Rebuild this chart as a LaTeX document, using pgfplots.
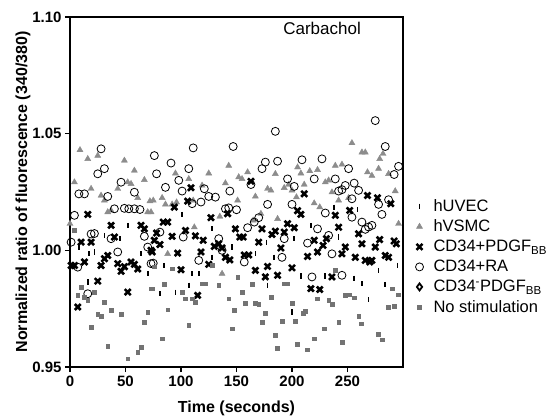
\documentclass[border=0pt]{standalone}
\usepackage{fontspec}
\setmainfont{Liberation Sans}
\usepackage{pgfplots}
\pgfplotsset{compat=1.18}
\definecolor{trigray}{RGB}{140,140,140}
\definecolor{sqgray}{RGB}{115,115,115}
\begin{document}
\begin{tikzpicture}
\begin{axis}[
 scale only axis, width=333pt, height=350pt,
 xmin=0, xmax=300, ymin=0.95, ymax=1.10,
 xtick={0,50,100,150,200,250}, ytick={0.95,1.00,1.05,1.10},
 tick pos=left, tick align=outside, major tick length=5pt,
 /pgf/number format/assume math mode=true,
 yticklabel style={/pgf/number format/fixed, /pgf/number format/fixed zerofill, /pgf/number format/precision=2},
 ticklabel style={font=\fontsize{15}{17}\selectfont\bfseries},
 axis line style={line width=1.3pt},
 every tick/.style={line width=1.3pt, black},
 xlabel={Time (seconds)},
 ylabel={Normalized ratio of fluorescence (340/380)},
 label style={font=\fontsize{16}{18}\selectfont\bfseries},
 xlabel style={at={(rel axis cs:0.5,-0.117)}, anchor=center},
 ylabel style={at={(rel axis cs:-0.141,0.5)}, anchor=center},
 legend style={at={(rel axis cs:1.037,0.485)}, anchor=north west, draw=none, fill=none,
   font=\fontsize{16.5}{18}\selectfont, row sep=3pt, inner sep=0pt,
   /tikz/every odd column/.append style={column sep=8pt}},
 legend cell align=left,
]
% hUVEC
\addplot[only marks, mark=|, mark size=2.6pt, black, mark options={line width=1.7pt}] coordinates {
(8,1.0014)(16,0.9864)(17,0.9985)(22,0.9993)(31,1.0064)(45,1.005)(52,1.0107)(64,0.9985)(70,0.99)
(81,0.9814)(85,0.9935)(95,0.9821)(101,1.0154)(107,0.985)(110,0.99)(116,0.99)(128,1.0092)(128,0.997)(146,1.0014)
(167,0.9985)(177,1.0035)(178,0.985)(184,0.997)(200,0.9736)(202,1.005)(208,0.989)(217,1.0107)
(230,0.989)(238,1.0185)(242,1.0057)(256,0.988)(259,1.0174)(263,0.9857)(269,0.9788)(278,0.9914)(284,0.9854)(295,0.9935)
};
\addlegendentry{hUVEC}
% hVSMC
\addplot[only marks, mark=triangle*, mark size=3.5pt, trigray] coordinates {
(0,1.0114)(4,1.0292)(9,1.043)(16,1.0392)(19,1.0264)(25,1.0406)(28,1.0235)(31,1.0214)(34,1.0164)(37,1.0171)
(43,1.0264)(49,1.0385)(52,1.0292)(55,1.0285)(58,1.0342)(61,1.0225)(67,1.0302)(70,1.0164)(72,1.0211)
(73,1.0164)(75,1.0214)(83,1.0225)(86,1.0197)(88,0.9985)(92,1.0197)(95,1.033)(96,1.0206)(107,1.0306)(111,1.0214)
(112,1.0099)(119,1.0278)(125,1.033)(135,1.0145)(137,0.99)(140,1.0288)(143,1.0363)(151,1.0214)
(152,1.0314)(155,1.0306)(160,1.0335)(165,1.0128)(167,1.0231)(172,1.0157)(178,1.0264)(181,1.0257)(185,1.0328)
(187,1.0135)(193,1.0268)(197,1.0282)(200,1.0257)(204,1.0228)(205,1.0356)(208,1.033)(211,1.0282)(216,1.034)
(220,1.0202)(223,1.0345)(225,1.0185)(230,1.0292)(233,1.03)(236,1.0249)(239,1.0363)(242,1.0214)(245,1.0368)
(251,1.0225)(254,1.046)(263,1.042)(266,1.042)(268,1.0335)(272,1.032)(278,1.035)(279,1.0392)(282,1.0414)
(287,1.0328)(293,1.0254)(296,1.0114)
};
\addlegendentry{hVSMC}
% CD34+PDGF
\addplot[only marks, mark=x, mark size=4.2pt, black, mark options={line width=2.6pt}] coordinates {
(1,0.9935)(4,0.9935)(7,0.9757)(10,1.0035)(13,0.995)(16,1.0154)(19,1.0035)(25,0.9868)(28,0.9935)(31,0.9964)
(34,0.9978)(37,1.0107)(40,1.0057)(43,0.9943)(46,0.991)(49,0.993)(52,0.9821)(55,0.995)(58,0.994)(61,0.992)
(64,1.0107)(67,1.0092)(73,1.0)(74,0.9993)(76,1.0043)(78,1.0074)(81,1.0025)(84,1.0121)(88,1.0121)(92,1.006)
(94,1.0185)(97,0.9988)(100,0.9917)(104,1.0085)(106,1.0211)(109,1.0268)(113,1.0062)(115,0.9807)(118,0.9993)
(120,1.0043)(125,0.994)(127,1.014)(130,1.0017)(134,1.0028)(137,1.001)(140,0.997)(142,1.0157)(144,0.9959)
(149,1.0092)(153,1.0057)(156,1.0057)(157,0.998)(161,0.998)(163,1.0296)(167,0.9914)(170,1.0035)(173,1.0092)
(176,0.9886)(178,0.9931)(182,1.0068)(185,1.0082)(187,0.9893)(190,1.001)(193,1.0078)(196,1.0114)(200,0.9925)
(202,1.0097)(205,1.017)(208,1.0154)(211,1.0242)(214,0.9974)(217,0.9836)(220,1.0043)(223,0.9993)(225,0.9832)
(228,1.0021)(231,1.005)(236,0.9886)(239,1.015)(242,1.0099)(245,0.9985)(248,1.0014)(252,1.0171)(257,0.997)
(260,1.0071)(263,1.0028)(266,0.9957)(268,1.0235)(270,0.995)(272,0.9957)(275,1.0014)(277,1.0225)(279,1.0046)
(284,0.9978)(287,0.997)(289,1.02)(292,1.004)(294,1.0028)
};
\addlegendentry{CD34+PDGF\textsubscript{BB}}
% CD34+RA
\addplot[only marks, mark=o, mark size=4pt, black, mark options={line width=0.8pt}] coordinates {
(1,1.0035)(4,1.015)(7,0.9928)(8,1.0242)(13,1.0242)(16,0.9814)(19,1.007)(22,1.0072)(25,1.0328)(28,1.0435)
(31,1.035)(34,1.0231)(37,1.005)(40,1.0178)(43,0.9993)(46,1.0292)(49,1.018)(53,1.0178)(58,1.0249)(58,1.0178)
(63,1.0175)(67,1.006)(70,1.0014)(73,0.9943)(75,0.9945)(76,1.0406)(78,1.0328)(81,1.0078)(86,1.027)(91,1.0374)
(98,1.03)(101,1.0254)(102,1.0057)(107,1.035)(110,1.02)(111,1.0439)(116,0.9957)(118,1.0207)(121,1.0264)
(125,1.0231)(131,1.0228)(134,1.005)(137,1.0)(140,1.0178)(143,1.0182)(144,1.0254)(147,1.0445)(150,1.0174)
(157,0.995)(160,1.0097)(163,1.0282)(166,1.0121)(170,1.014)(173,1.035)(176,1.0378)(178,1.0197)(185,1.051)
(187,1.0382)(191,0.997)(193,1.005)(196,1.0306)(200,1.0197)(202,1.0274)(209,1.0388)(214,1.0031)(218,0.9886)
(220,1.0306)(223,1.0092)(227,1.0392)(230,1.016)(233,1.0064)(236,0.9985)(239,1.0306)(242,1.0254)(245,1.026)
(245,0.9893)(248,1.0278)(251,1.035)(254,1.0221)(254,1.0142)(256,1.0288)(260,1.0257)(263,1.0121)(266,1.009)
(269,1.01)(272,1.0107)(275,1.0556)(278,1.0197)(281,1.0154)(284,1.0445)(287,1.0217)(292,1.0325)(296,1.036)
};
\addlegendentry{CD34+RA}
\addlegendimage{only marks, mark=diamond, mark size=3.5pt, black, mark options={line width=1.8pt}}
\addlegendentry{CD34\textsuperscript{-}PDGF\textsubscript{BB}}
% No stimulation
\addplot[only marks, mark=square*, mark size=1.9pt, sqgray] coordinates {
(4,1.0085)(7,0.9807)(10,0.9843)(13,0.98)(16,0.9786)(19,0.9669)(22,0.9821)(25,0.9728)(28,0.9717)(31,0.9778)
(34,0.9589)(37,0.9743)(46,0.9728)(52,0.9536)(61,0.9564)(64,0.9586)(67,0.9693)(70,0.9735)(73,0.9836)
(74,0.9836)(76,0.993)(83,0.9621)(85,0.9854)(88,0.9746)(92,0.9921)(101,0.9821)(104,0.9793)(107,0.9679)
(110,0.9793)(113,0.9778)(119,0.9857)(122,0.9857)(128,0.9935)(134,0.985)(143,0.9793)(146,0.9664)(148,0.9743)
(151,0.9886)(155,0.9821)(158,0.9774)(164,0.9854)(167,0.9774)(170,0.9768)(173,0.9693)(176,0.9729)(181,0.98)
(185,0.9636)(187,0.9579)(191,0.9697)(193,0.9857)(196,0.9857)(200,0.9774)(203,0.9697)(205,0.9597)(210,0.9732)
(212,0.974)(214,0.9574)(220,0.9621)(223,0.9793)(229,0.9664)(233,0.9788)(236,0.9768)(239,0.9914)(242,0.9693)
(245,0.9607)(248,0.9807)(252,0.981)(256,0.9797)(260,0.9717)(262,0.9686)(278,0.964)(281,0.9617)(287,0.9757)
(290,0.9836)(292,0.976)(296,0.981)
};
\addlegendentry{No stimulation}
\node[font=\fontsize{17}{19}\selectfont, anchor=center] at (rel axis cs:0.757,0.966) {Carbachol};
\end{axis}
\pgfresetboundingbox
\path (current axis.south west) ++(-70pt,-49pt) rectangle ++(553pt,416pt);
\end{tikzpicture}
\end{document}
